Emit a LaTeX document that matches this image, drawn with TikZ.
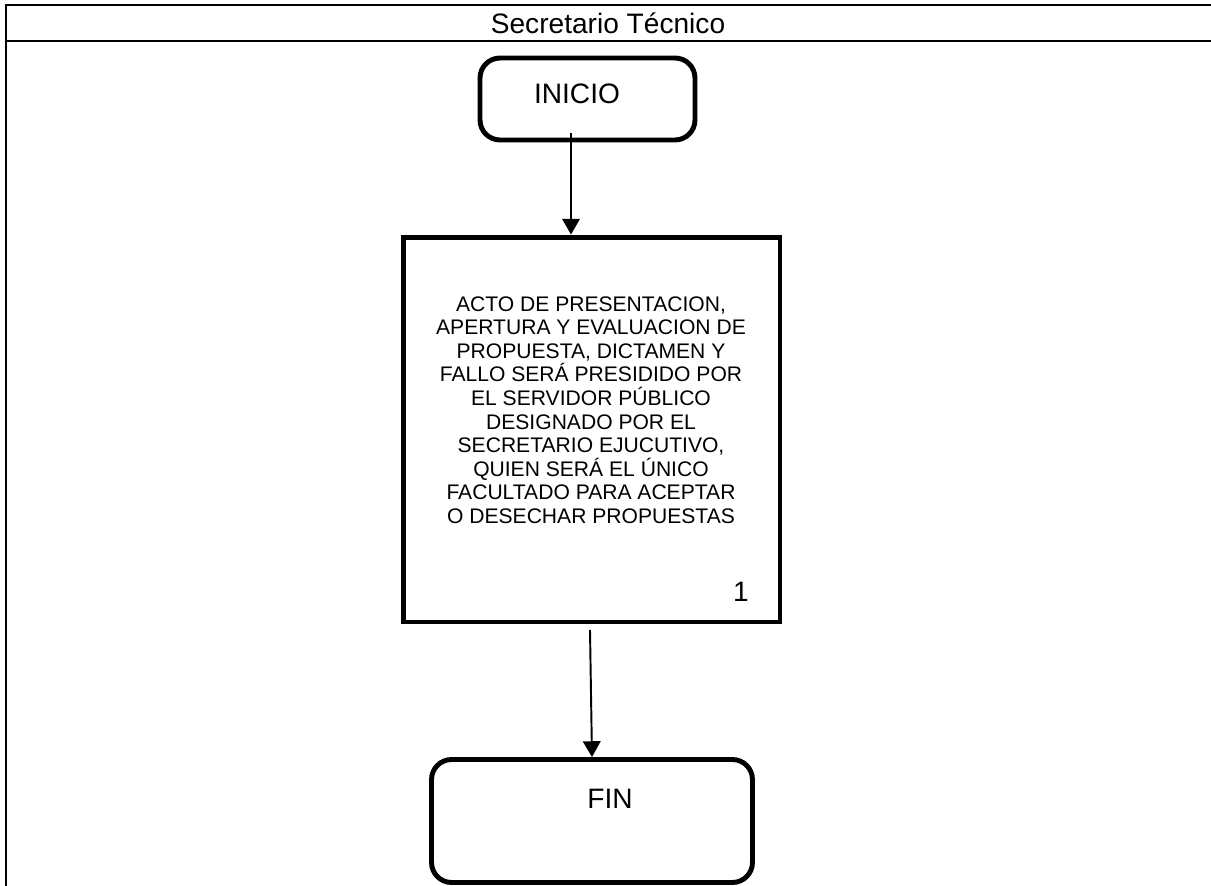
\documentclass[tikz,border=0pt]{standalone}
\usepackage{fontspec}
\setmainfont{Liberation Sans}
\usetikzlibrary{arrows.meta,positioning}

\tikzset{
  startend/.style={draw,line width=2.8pt,rounded corners=0.4cm},
  lbl/.style={font=\fontsize{16}{19}\selectfont},
  procbox/.style={draw,line width=2.8pt,minimum width=7.54cm,minimum height=7.7cm},
  proctext/.style={align=center,font=\fontsize{12}{13.4}\selectfont},
  flow/.style={-{Triangle[length=9pt,width=10pt]},line width=1.1pt},
  frame/.style={line width=1.1pt}
}

\begin{document}
\begin{tikzpicture}[x=0.02cm,y=-0.02cm]
  \useasboundingbox (0,0) rectangle (1211,886);
  % swimlane frame
  \draw[frame] (1211,5) -- (6,5) -- (6,886);
  \draw[frame] (6,41) -- (1211,41);
  \node[lbl] (lane) at (608,23) {Secretario Técnico};

  % nodes
  \node[startend,minimum width=4.3cm,minimum height=1.64cm] (inicio) at (587.5,99) {};
  \node[lbl] (initxt) at (577,94) {INICIO};
  \node[procbox] (proc) at (591.5,429.5) {};
  \node[proctext] (ptxt) at (591,410) {ACTO DE PRESENTACION,\\APERTURA Y EVALUACION DE\\PROPUESTA, DICTAMEN Y\\FALLO SERÁ PRESIDIDO POR\\EL SERVIDOR PÚBLICO\\DESIGNADO POR EL\\SECRETARIO EJUCUTIVO,\\QUIEN SERÁ EL ÚNICO\\FACULTADO PARA ACEPTAR\\O DESECHAR PROPUESTAS};
  \node[lbl] (num) at (741,592) {1};
  \node[startend,minimum width=6.42cm,minimum height=2.46cm] (fin) at (592,821) {};
  \node[lbl] (fintxt) at (610,799) {FIN};

  % connectors
  \coordinate (a1) at (571,133);
  \coordinate (a2) at (590,630);
  \draw[flow] (a1) -- (a1 |- proc.north);
  \draw[flow] (a2) -- (fin.north -| 592,0);
\end{tikzpicture}
\end{document}
